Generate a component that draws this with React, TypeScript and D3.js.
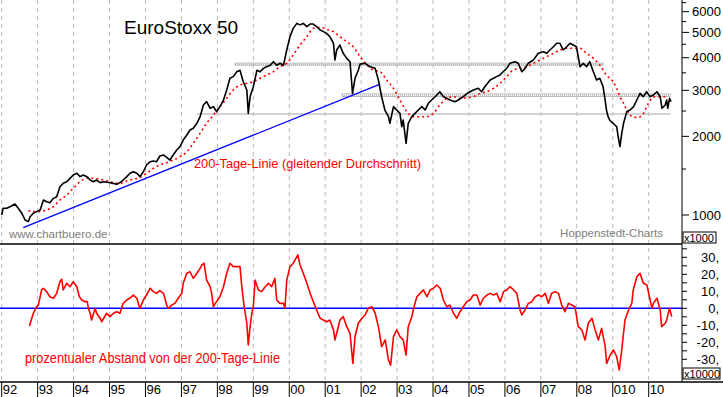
import React from 'react';
import * as d3 from 'd3';

// EuroStoxx 50 index (decimal years)
const priceYears = [
  1992.0, 1992.04, 1992.14, 1992.23, 1992.37, 1992.46, 1992.56, 1992.65, 1992.74, 1992.79, 1992.88, 1992.97,
  1993.07, 1993.16, 1993.25, 1993.34, 1993.44, 1993.53, 1993.62, 1993.71, 1993.81, 1993.9, 1993.99,
  1994.09, 1994.18, 1994.27, 1994.37, 1994.46, 1994.55, 1994.64, 1994.74, 1994.83,
  1995.01, 1995.2, 1995.29, 1995.38, 1995.48, 1995.57, 1995.66, 1995.76, 1995.85, 1995.94,
  1996.03, 1996.13, 1996.22, 1996.31, 1996.4, 1996.5, 1996.59, 1996.68, 1996.77, 1996.87, 1996.96,
  1997.05, 1997.15, 1997.24, 1997.33, 1997.43, 1997.52, 1997.61, 1997.7, 1997.8, 1997.89, 1997.98,
  1998.07, 1998.17, 1998.26, 1998.35, 1998.44, 1998.54, 1998.63, 1998.72, 1998.82, 1998.86, 1998.91,
  1999.0, 1999.1, 1999.19, 1999.28, 1999.37, 1999.47, 1999.56, 1999.65, 1999.74, 1999.84, 1999.93,
  2000.02, 2000.11, 2000.21, 2000.3, 2000.39, 2000.49, 2000.58, 2000.67, 2000.76, 2000.86, 2000.95,
  2001.04, 2001.13, 2001.23, 2001.27, 2001.32, 2001.41, 2001.5, 2001.6, 2001.69, 2001.76, 2001.83, 2001.92, 2001.97,
  2002.11, 2002.25, 2002.39, 2002.48, 2002.57, 2002.66, 2002.76, 2002.8, 2002.9, 2002.99,
  2003.08, 2003.13, 2003.17, 2003.25, 2003.31, 2003.41, 2003.5, 2003.59, 2003.69, 2003.78, 2003.87, 2003.96,
  2004.06, 2004.19, 2004.29, 2004.38, 2004.47, 2004.61, 2004.7, 2004.84, 2004.98,
  2005.12, 2005.26, 2005.35, 2005.44, 2005.59, 2005.68, 2005.77, 2005.86, 2005.95,
  2006.05, 2006.14, 2006.28, 2006.37, 2006.47, 2006.56, 2006.65, 2006.79, 2006.93,
  2007.07, 2007.16, 2007.25, 2007.35, 2007.44, 2007.53, 2007.62, 2007.72, 2007.81, 2007.9, 2007.99,
  2008.09, 2008.18, 2008.27, 2008.36, 2008.46, 2008.55, 2008.64, 2008.73, 2008.78, 2008.83, 2008.87, 2008.92,
  2009.01, 2009.11, 2009.15, 2009.2, 2009.25, 2009.3, 2009.39, 2009.48, 2009.58, 2009.67, 2009.76, 2009.85, 2009.94,
  2010.04, 2010.13, 2010.23, 2010.32, 2010.37, 2010.46, 2010.5, 2010.53, 2010.58, 2010.62,
];
const priceValues = [
  1000, 1061, 1061, 1076, 1102, 1061, 1015, 957, 943, 985, 1015, 1030,
  1045, 1141, 1124, 1114, 1158, 1175, 1283, 1322, 1341, 1381, 1423,
  1444, 1402, 1423, 1402, 1361, 1341, 1361, 1330, 1341,
  1330, 1311, 1330, 1361, 1402, 1444, 1464, 1444, 1402, 1464,
  1554, 1600, 1610, 1600, 1682, 1697, 1663, 1623, 1697, 1773, 1826,
  1936, 2024, 2115, 2147, 2244, 2379, 2636, 2715, 2562, 2599, 2485,
  2599, 2755, 3009, 3336, 3385, 3535, 3580, 3237, 3009, 2450, 2836,
  3097, 3580, 3535, 3642, 3694, 3743, 3862, 3743, 3808, 3743, 4281,
  4814, 5179, 5412, 5342, 5412, 5259, 5383, 5383, 5259, 5105, 5034,
  4958, 4814, 4541, 3920, 4281, 4473, 4157, 3977, 3862, 2922, 3336, 3580, 3780,
  3808, 3694, 3642, 3287, 2836, 2522, 2379, 2244, 2599, 2522,
  2450, 2177, 2310, 1881, 2244, 2379, 2450, 2522, 2599, 2522, 2676, 2755,
  2836, 2964, 2836, 2796, 2755, 2715, 2755, 2836, 2938,
  3009, 3054, 2964, 3097, 3287, 3336, 3385, 3434, 3535,
  3642, 3808, 3862, 3808, 3535, 3642, 3808, 3920, 4157,
  4217, 4157, 4281, 4406, 4541, 4541, 4281, 4406, 4541, 4473, 4406,
  3694, 3808, 3694, 3862, 3535, 3287, 3336, 3100, 2800, 2500, 2379, 2300,
  2244, 2177, 1993, 1826, 2054, 2244, 2485, 2522, 2599, 2755, 2922, 2836, 2964,
  2836, 2879, 2964, 2836, 2561, 2636, 2755, 2561, 2796, 2715,
];

// 200-Tage-Linie
const maYears = [
  1992.74, 1992.88, 1993.07, 1993.25, 1993.44, 1993.62, 1993.81, 1993.99, 1994.18, 1994.37, 1994.55, 1994.74, 1994.92,
  1995.11, 1995.29, 1995.48, 1995.66, 1995.85, 1996.03, 1996.22, 1996.4, 1996.59, 1996.77, 1996.96,
  1997.15, 1997.33, 1997.52, 1997.7, 1997.89, 1998.07, 1998.26, 1998.44, 1998.63, 1998.82,
  1999.0, 1999.19, 1999.37, 1999.56, 1999.74, 1999.93, 2000.11, 2000.3, 2000.49, 2000.67, 2000.86,
  2001.04, 2001.23, 2001.41, 2001.6, 2001.78, 2001.97, 2002.16, 2002.34, 2002.53, 2002.71, 2002.9,
  2003.08, 2003.27, 2003.45, 2003.64, 2003.83, 2004.01, 2004.19, 2004.38, 2004.57, 2004.75, 2004.94,
  2005.12, 2005.31, 2005.49, 2005.68, 2005.86, 2006.05, 2006.23, 2006.42, 2006.61, 2006.79, 2006.98,
  2007.16, 2007.35, 2007.53, 2007.72, 2007.9, 2008.09, 2008.27, 2008.46, 2008.64, 2008.83,
  2009.01, 2009.11, 2009.2, 2009.3, 2009.39, 2009.48, 2009.58, 2009.67, 2009.81, 2009.9, 2009.99,
  2010.09, 2010.18, 2010.32, 2010.46, 2010.53,
];
const maValues = [
  1039, 1030, 1030, 1045, 1076, 1141, 1193, 1265, 1341, 1382, 1382, 1370, 1353,
  1329, 1322, 1349, 1370, 1394, 1444, 1509, 1554, 1586, 1623, 1671,
  1747, 1881, 2054, 2244, 2414, 2597, 2797, 3009, 3145, 3192,
  3237, 3336, 3434, 3535, 3694, 3807, 4097, 4473, 4814, 5182, 5228,
  5137, 5029, 4814, 4606, 4406, 4040, 3750, 3588, 3535, 3286, 3054,
  2755, 2485, 2378, 2378, 2378, 2450, 2636, 2797, 2836, 2797, 2811,
  2836, 2922, 2965, 3054, 3192, 3383, 3588, 3642, 3694, 3807, 3920,
  4036, 4157, 4281, 4345, 4345, 4345, 4157, 3978, 3750, 3420,
  3237, 3054, 2836, 2676, 2522, 2414, 2365, 2365, 2392, 2522, 2676,
  2797, 2836, 2836, 2836, 2821,
];

// prozentualer Abstand von der 200-Tage-Linie
const oscYears = [
  1992.77, 1992.88, 1992.97, 1993.02, 1993.11, 1993.16, 1993.25, 1993.34, 1993.44, 1993.53, 1993.62, 1993.67, 1993.71,
  1993.81, 1993.9, 1993.99, 1994.09, 1994.16, 1994.23, 1994.32, 1994.38, 1994.41, 1994.46, 1994.5, 1994.6, 1994.64,
  1994.74, 1994.78, 1994.92, 1995.01, 1995.11, 1995.2, 1995.29, 1995.38, 1995.48, 1995.62, 1995.66, 1995.76, 1995.83,
  1995.85, 1995.94, 1996.03, 1996.13, 1996.22, 1996.31, 1996.4, 1996.5, 1996.54, 1996.59, 1996.64, 1996.73, 1996.82,
  1996.91, 1997.01, 1997.05, 1997.15, 1997.24, 1997.33, 1997.43, 1997.52, 1997.57, 1997.63, 1997.7, 1997.8, 1997.84,
  1997.89, 1997.94, 1997.98, 1998.07, 1998.17, 1998.26, 1998.35, 1998.44, 1998.54, 1998.63, 1998.68, 1998.74, 1998.82,
  1998.86, 1998.91, 1998.96, 1999.0, 1999.05, 1999.14, 1999.23, 1999.33, 1999.42, 1999.51, 1999.6, 1999.65, 1999.74,
  1999.84, 1999.88, 1999.93, 2000.02, 2000.11, 2000.24, 2000.3, 2000.39, 2000.49, 2000.58, 2000.67, 2000.76, 2000.86,
  2000.95, 2001.04, 2001.13, 2001.23, 2001.27, 2001.32, 2001.41, 2001.5, 2001.6, 2001.69, 2001.77, 2001.83, 2001.92,
  2002.02, 2002.11, 2002.2, 2002.3, 2002.39, 2002.48, 2002.57, 2002.67, 2002.76, 2002.82, 2002.9, 2002.99, 2003.08,
  2003.17, 2003.25, 2003.31, 2003.41, 2003.47, 2003.55, 2003.64, 2003.73, 2003.83, 2003.92, 2004.01, 2004.1, 2004.2,
  2004.29, 2004.38, 2004.47, 2004.57, 2004.66, 2004.75, 2004.84, 2004.94, 2005.03, 2005.12, 2005.22, 2005.31, 2005.4,
  2005.5, 2005.59, 2005.68, 2005.77, 2005.87, 2005.96, 2006.05, 2006.14, 2006.24, 2006.33, 2006.42, 2006.47, 2006.56,
  2006.65, 2006.75, 2006.84, 2006.93, 2007.03, 2007.12, 2007.21, 2007.3, 2007.4, 2007.49, 2007.58, 2007.67, 2007.77,
  2007.86, 2007.95, 2008.04, 2008.14, 2008.23, 2008.32, 2008.42, 2008.51, 2008.6, 2008.69, 2008.79, 2008.83, 2008.93,
  2009.02, 2009.11, 2009.18, 2009.25, 2009.34, 2009.44, 2009.53, 2009.57, 2009.67, 2009.76, 2009.85, 2009.95, 2010.04,
  2010.09, 2010.13, 2010.23, 2010.32, 2010.36, 2010.46, 2010.5, 2010.58, 2010.64,
];
const oscValues = [
  -10.4, -2.9, 0.9, 1.9, 10.8, 11.8, 9.8, 6.8, 5.9, 8.8, 15.6, 17.1, 10.8,
  14.7, 12.7, 15.6, 12.7, 6.8, 4.9, 3.9, 3.9, 0, -2.9, -6.9, 0, -2.9,
  -5.9, -7.9, -2.9, -4.9, -2.9, -2.0, -2.9, 2.9, 4.9, 6.8, 7.8, 5.9, 0.9,
  0, 4.9, 7.8, 11.8, 9.8, 8.8, 10.4, 8.8, 5.9, 1.9, 0, 1.9, 2.9,
  5.9, 8.8, 14.7, 20.6, 21.5, 17.6, 20.6, 23.5, 25.5, 26.5, 16.6, 12.7, 8.8,
  0.9, 2.9, 3.9, 6.8, 12.7, 20.6, 26.5, 24.5, 24.5, 24.5, 12.7, 1.9, -8.8,
  -21.6, -10.8, -2.9, 0.9, 16.6, 10.8, 9.8, 12.7, 14.7, 12.7, 17.6, 4.9, 2.9,
  2.9, 0, 16.6, 24.5, 26.5, 31.4, 25.5, 20.6, 14.7, 8.8, 3.9, -1.0, -5.9,
  -6.9, -7.9, -6.9, -12.7, -18.6, -14.7, -6.9, -4.9, -10.8, -14.7, -32.4, -16.7, -8.8,
  -5.9, -3.9, 0, 0.9, -2.9, -10.8, -22.6, -18.6, -30.4, -33.4, -16.7, -12.7, -16.7,
  -18.6, -27.5, -10.8, -4.9, 0.9, 6.8, 8.8, 10.8, 6.8, 10.8, 11.8, 13.7, 11.8,
  4.9, 0.9, 1.9, -2.9, -5.9, -2.0, 0.9, 3.9, 4.9, 7.8, 7.8, 1.9, 5.9,
  7.8, 8.8, 7.8, 8.8, 3.9, 9.8, 10.8, 12.7, 10.8, 8.8, -1.0, -3.9, -1.0,
  2.9, 3.9, 6.8, 7.8, 6.8, 8.8, 2.9, 8.8, 9.8, 8.8, 1.9, -2.0, 2.9,
  1.9, 0.9, -10.8, -12.7, -18.6, -8.8, -5.9, -12.7, -18.6, -11.8, -22.6, -32.4, -27.5,
  -24.5, -28.5, -36.3, -24.5, -6.9, -1.0, 2.9, 10.8, 18.6, 20.6, 14.7, 13.7, 4.9,
  0, 2.9, 5.9, -1.0, -10.8, -8.8, -6.9, 0, -4.9,
];

const yearTicks = d3.range(1992, 2011);
const yearLabels = ['92', '93', '94', '95', '96', '97', '98', '99', '00', '01', '02', '03', '04', '05', '06', '07', '08', '010', '10'];
const priceTicks = d3.range(1000, 6501, 500);
const priceLabels = [1000, 2000, 3000, 4000, 5000, 6000];
const oscTicks = d3.range(-30, 36, 5);
const oscLabels = [30, 20, 10, 0, -10, -20, -30];

// horizontal support / resistance marks: [from, to, upper, lower]
const bandLevels = [
  [1998.49, 2008.73, 3814, 3742],
  [2001.47, 2010.6, 2908, 2842],
];
const supportLine = [1997.43, 2010.6, 2435];
// blue trend line: [year, value]
const trendStart = [1992.6, 894];
const trendEnd = [2002.53, 3171];

const W = 723;
const H = 397;
const axisX = 682;
const sepY = 244;
const baseY = 382;
const font = '"Liberation Sans", Arial, sans-serif';

export default function App() {
  const x = d3.scaleLinear().domain([1992, 2010]).range([1.7, 648.7]);
  const yP = d3.scaleLog().domain([1000, 6000]).range([215, 11.7]);
  const yO = d3.scaleLinear().domain([-30, 30]).range([359.3, 257.3]);

  const priceLine = d3.line<number>().x((d, i) => x(priceYears[i])).y(d => yP(d));
  const maLine = d3.line<number>().x((d, i) => x(maYears[i])).y(d => yP(d)).curve(d3.curveMonotoneX);
  const oscLine = d3.line<number>().x((d, i) => x(oscYears[i])).y(d => yO(d));

  return (
    <svg width={W} height={H} style={{ position: 'absolute', left: 0, top: 0, background: '#fff' }} fontFamily={font}>
      <defs>
        <clipPath id="topClip"><rect x={0} y={0} width={axisX} height={sepY} /></clipPath>
        <clipPath id="botClip"><rect x={0} y={sepY} width={axisX} height={baseY - sepY} /></clipPath>
      </defs>
      <rect x={0} y={0} width={W} height={H} fill="#fff" />

      {/* year grid */}
      {yearTicks.map(t => (
        <line key={'g' + t} x1={x(t)} x2={x(t)} y1={0} y2={baseY} stroke="#b8b8b8" strokeDasharray="4,4" />
      ))}

      {/* top panel */}
      <g clipPath="url(#topClip)">
        {bandLevels.map((b, i) => (
          <g key={'b' + i}>
            <rect x={x(b[0])} y={yP(b[2])} width={x(b[1]) - x(b[0])} height={yP(b[3]) - yP(b[2])}
              fill="none" stroke="#bdbdbd" />
            <line x1={x(b[0])} x2={x(b[1])} y1={(yP(b[2]) + yP(b[3])) / 2} y2={(yP(b[2]) + yP(b[3])) / 2}
              stroke="#999" strokeDasharray="1,1" />
          </g>
        ))}
        <line x1={x(supportLine[0])} x2={x(supportLine[1])} y1={yP(supportLine[2])} y2={yP(supportLine[2])}
          stroke="#c4c4c4" strokeWidth={1.5} />
        <line x1={x(trendStart[0])} y1={yP(trendStart[1])} x2={x(trendEnd[0])} y2={yP(trendEnd[1])}
          stroke="#0000ff" strokeWidth={1.3} />
        <path d={maLine(maValues) || ''} fill="none" stroke="#ff0000" strokeWidth={1.6} strokeDasharray="2,3" />
        <path d={priceLine(priceValues) || ''} fill="none" stroke="#000" strokeWidth={1.6} strokeLinejoin="round" />
      </g>

      <text x={124} y={34} fontSize={19} fill="#000">EuroStoxx 50</text>
      <text x={194} y={168} fontSize={12.7} fill="#ff0000" textLength={227} lengthAdjust="spacingAndGlyphs">
        200-Tage-Linie (gleitender Durchschnitt)
      </text>
      <text x={9} y={238} fontSize={11.5} fill="#808080">www.chartbuero.de</text>
      <text x={663} y={237} fontSize={11.5} fill="#808080" textAnchor="end">Hoppenstedt-Charts</text>

      {/* bottom panel */}
      <g clipPath="url(#botClip)">
        <line x1={0} x2={axisX} y1={yO(0)} y2={yO(0)} stroke="#0000ff" strokeWidth={1.5} />
        <path d={oscLine(oscValues) || ''} fill="none" stroke="#ff0000" strokeWidth={1.6} strokeLinejoin="round" />
      </g>
      <text x={25} y={363} fontSize={14} fill="#ff0000" textLength={255} lengthAdjust="spacingAndGlyphs">
        prozentualer Abstand von der 200-Tage-Linie
      </text>

      {/* frame */}
      <line x1={axisX} x2={axisX} y1={0} y2={baseY} stroke="#000" />
      <line x1={0} x2={axisX} y1={sepY} y2={sepY} stroke="#000" strokeWidth={1.5} />
      <line x1={0} x2={W} y1={baseY} y2={baseY} stroke="#000" strokeWidth={1.5} />

      {/* right price axis */}
      {priceTicks.map(t => (
        <line key={'pt' + t} x1={axisX} x2={axisX + (priceLabels.includes(t) ? 7 : 4)} y1={yP(t)} y2={yP(t)} stroke="#000" />
      ))}
      {priceLabels.map(t => (
        <text key={'pl' + t} x={692} y={yP(t) + 4.7} fontSize={13} fill="#000">{t}</text>
      ))}
      <rect x={axisX + 1} y={232} width={33} height={11} fill="#fff" stroke="#000" />
      <text x={axisX + 2} y={241.5} fontSize={11} fill="#000">x1000</text>

      {/* right oscillator axis */}
      {oscTicks.map(t => (
        <line key={'ot' + t} x1={axisX} x2={axisX + 5} y1={yO(t)} y2={yO(t)} stroke="#000" />
      ))}
      {oscLabels.map(t => (
        <text key={'ol' + t} x={719} y={yO(t) + 4.7} fontSize={13} fill="#000" textAnchor="end">{t + ','}</text>
      ))}
      <rect x={axisX + 1} y={368} width={37} height={11} fill="#fff" stroke="#000" />
      <text x={axisX + 2} y={377.5} fontSize={11} fill="#000">x10000</text>

      {/* year axis */}
      {yearTicks.map((t, i) => (
        <g key={'y' + t}>
          <line x1={x(t)} x2={x(t)} y1={baseY} y2={H} stroke="#000" />
          <text x={x(t) + 1} y={394} fontSize={13} fill="#000">{yearLabels[i]}</text>
        </g>
      ))}
    </svg>
  );
}
